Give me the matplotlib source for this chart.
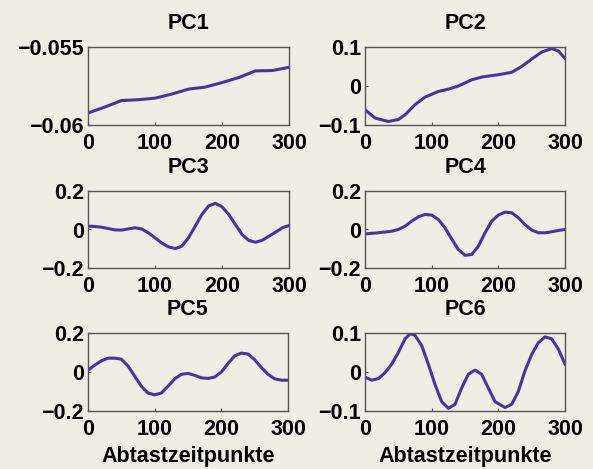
import matplotlib.pyplot as plt

plt.rcParams['font.family'] = ['Liberation Sans', 'DejaVu Sans']
plt.rcParams['font.weight'] = 'bold'
plt.rcParams['font.size'] = 15.5

# PC1
pc1_x = [0, 25, 50, 75, 100, 125, 150, 175, 200, 225, 250, 275, 300]
pc1_y = [-0.05923, -0.05885, -0.05843, -0.05838, -0.05828, -0.05802, -0.0577,
         -0.05757, -0.05728, -0.05696, -0.05653, -0.05651, -0.0563]
# PC2
pc2_x = [0, 15, 35, 50, 60, 75, 90, 110, 125, 140, 160, 175, 200, 220, 235, 250, 265, 280, 290, 300]
pc2_y = [-0.061, -0.082, -0.091, -0.086, -0.074, -0.048, -0.0285, -0.014, -0.008, 0.0,
         0.0157, 0.023, 0.029, 0.035, 0.05, 0.069, 0.087, 0.096, 0.09, 0.071]
# PC3
pc3_x = list(range(0, 301, 10))
pc3_y = [0.017, 0.016, 0.012, 0.005, -0.002, -0.003, 0.003, 0.009, 0.003, -0.017, -0.043,
         -0.07, -0.09, -0.099, -0.087, -0.043, 0.017, 0.078, 0.122, 0.136, 0.118,
         0.078, 0.026, -0.026, -0.057, -0.066, -0.056, -0.035, -0.014, 0.009, 0.021]
# PC4
pc4_x = [0, 20, 40] + list(range(50, 301, 10))
pc4_y = [-0.023, -0.017, -0.009, 0.0, 0.017, 0.043, 0.066, 0.078, 0.075, 0.052, 0.009,
         -0.049, -0.104, -0.134, -0.13, -0.087, -0.017, 0.043, 0.075, 0.09, 0.087,
         0.061, 0.026, -0.003, -0.017, -0.017, -0.012, -0.005, 0.0]
# PC5
pc5_x = list(range(0, 301, 10))
pc5_y = [0.009, 0.035, 0.057, 0.071, 0.071, 0.066, 0.031, -0.021, -0.073, -0.108, -0.117,
         -0.108, -0.073, -0.035, -0.012, -0.007, -0.017, -0.03, -0.033, -0.026, 0.0,
         0.043, 0.083, 0.097, 0.092, 0.063, 0.023, -0.012, -0.035, -0.042, -0.042]
# PC6
pc6_x = [0, 10, 20, 30, 40, 50, 60, 68, 75, 85, 95, 105, 115, 125, 135, 145, 155, 165,
         175, 185, 195, 210, 220, 230, 240, 250, 260, 270, 280, 290, 300]
pc6_y = [-0.013, -0.021, -0.017, -0.002, 0.02, 0.05, 0.085, 0.098, 0.094, 0.068, 0.02,
         -0.032, -0.076, -0.093, -0.083, -0.041, -0.006, 0.005, -0.006, -0.041, -0.076,
         -0.091, -0.083, -0.05, 0.003, 0.045, 0.075, 0.09, 0.085, 0.059, 0.02]

titles = ['PC1', 'PC2', 'PC3', 'PC4', 'PC5', 'PC6']
xs = [pc1_x, pc2_x, pc3_x, pc4_x, pc5_x, pc6_x]
ys = [pc1_y, pc2_y, pc3_y, pc4_y, pc5_y, pc6_y]
ylims = [(-0.06, -0.055), (-0.1, 0.1), (-0.2, 0.2), (-0.2, 0.2), (-0.2, 0.2), (-0.1, 0.1)]
yticks = [[-0.06, -0.055], [-0.1, 0, 0.1], [-0.2, 0, 0.2], [-0.2, 0, 0.2], [-0.2, 0, 0.2], [-0.1, 0, 0.1]]
yticklabels = [['\u22120.06', '\u22120.055'], ['\u22120.1', '0', '0.1'], ['\u22120.2', '0', '0.2'],
               ['\u22120.2', '0', '0.2'], ['\u22120.2', '0', '0.2'], ['\u22120.1', '0', '0.1']]

# axes boxes in pixels (left, top, right, bottom)
boxes = [(88, 47, 289, 125), (365, 47, 565, 125),
         (88, 191, 289, 268), (365, 191, 565, 268),
         (88, 333, 288, 411), (365, 333, 565, 411)]

W, H = 593, 469
bg = '#eeeee4'
fig = plt.figure(figsize=(W / 100, H / 100), dpi=100, facecolor=bg)

for i in range(6):
    l, t, r, b = boxes[i]
    ax = fig.add_axes([l / W, 1 - b / H, (r - l) / W, (b - t) / H])
    ax.set_facecolor(bg)
    ax.plot(xs[i], ys[i], color='#4a33a3', linewidth=2.2, solid_joinstyle='round')
    ax.set_xlim(0, 300)
    ax.set_ylim(*ylims[i])
    ax.set_xticks([0, 100, 200, 300])
    ax.set_yticks(yticks[i])
    ax.set_yticklabels(yticklabels[i])
    ax.tick_params(direction='in', length=2, color='#555555', pad=3)
    ax.tick_params(axis='x', pad=6)
    for s in ax.spines.values():
        s.set_color('#555555')
        s.set_linewidth(1)
    ax.set_title(titles[i], fontweight='bold', fontsize=15.5, pad=13)
    if i >= 4:
        ax.set_xlabel('Abtastzeitpunkte', fontweight='bold', fontsize=15.5, labelpad=4)

plt.savefig('out.png', dpi=100, facecolor=bg)
